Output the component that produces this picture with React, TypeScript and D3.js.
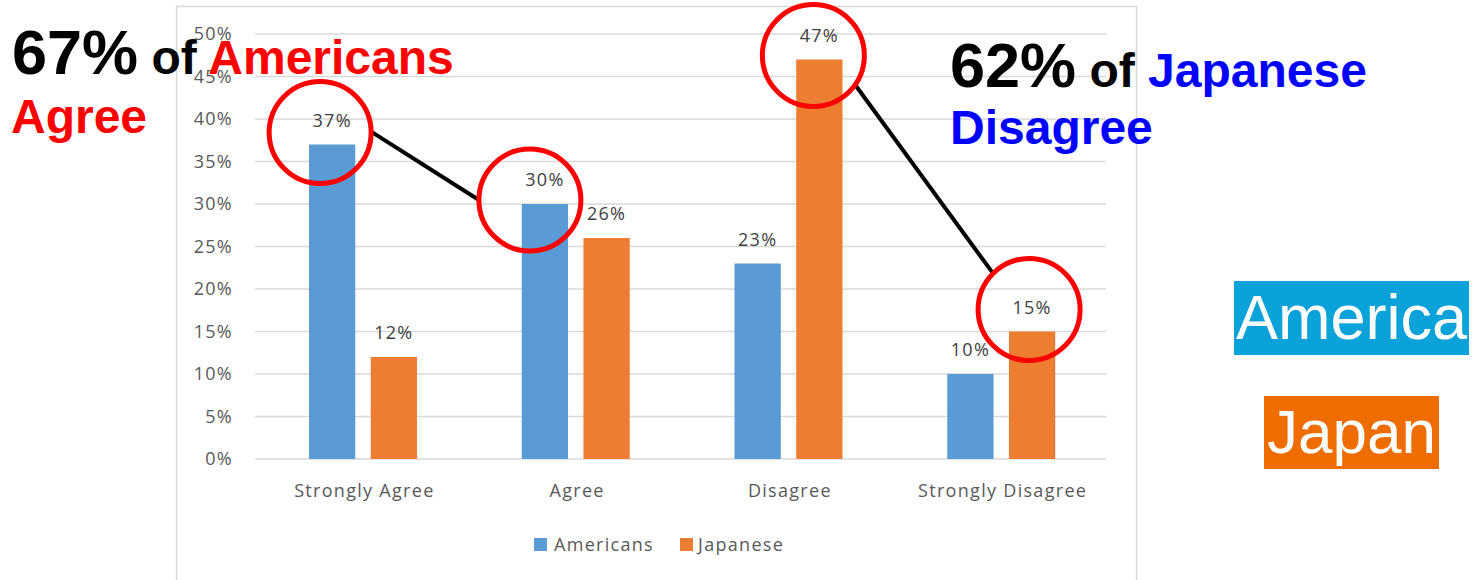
import React, { useEffect } from "react";
import * as d3 from "d3";

const categories = ["Strongly Agree", "Agree", "Disagree", "Strongly Disagree"];
const seriesNames = ["Americans", "Japanese"];
const americans = [37, 30, 23, 10];
const japanese = [12, 26, 47, 15];
const yTicks = [0, 5, 10, 15, 20, 25, 30, 35, 40, 45, 50];

// highlight circles: which bar they surround (category index, series index)
const circleCat = [0, 1, 2, 3];
const circleSeries = [0, 0, 1, 1];
const circleDx = [-12, -15, -6, -3];
const circleDy = [-12, -4, -4, -22];
// connectors: [fromCircle, angleDeg, toCircle, angleDeg]
const connectors: [number, number, number, number][] = [
  [0, -1, 1, 180],
  [2, 35, 3, 225],
];

const W = 1479;
const H = 580;
const plotLeft = 255;
const plotRight = 1106;
const plotTop = 34;
const plotBottom = 459;
const BLUE = "#5b9bd5";
const ORANGE = "#ed7d31";
const chartFont = "'Open Sans', sans-serif";
const bigFont = "'Liberation Sans', Arial, sans-serif";

export default function App() {
  useEffect(() => {
    document.body.style.margin = "0";
  }, []);

  const x0 = d3.scaleBand<string>().domain(categories).range([plotLeft, plotRight]);
  const x1 = d3.scaleBand<string>().domain(seriesNames).range([54, 162]).paddingInner(0.25);
  const y = d3.scaleLinear().domain([0, 50]).range([plotBottom, plotTop]);
  const color = d3.scaleOrdinal<string, string>().domain(seriesNames).range([BLUE, ORANGE]);
  const values = [americans, japanese];
  const bw = x1.bandwidth();

  const barCx = (ci: number, si: number) =>
    (x0(categories[ci]) as number) + (x1(seriesNames[si]) as number) + bw / 2;

  const R = 51;
  const circles = circleCat.map((ci, k) => ({
    cx: barCx(ci, circleSeries[k]) + circleDx[k],
    cy: y(values[circleSeries[k]][ci]) + circleDy[k],
  }));
  const pt = (k: number, deg: number) => {
    const a = (deg * Math.PI) / 180;
    return [circles[k].cx + R * Math.cos(a), circles[k].cy + R * Math.sin(a)];
  };

  const textStyle = { fontFamily: chartFont, fontSize: 18, letterSpacing: 1.3 };

  return (
    <svg width={W} height={H} style={{ position: "absolute", left: 0, top: 0, background: "#fff" }}>
      {/* chart frame */}
      <rect x={176.5} y={6.5} width={960} height={620} fill="#fff" stroke="#d9d9d9" strokeWidth={1.5} />

      {/* gridlines */}
      {yTicks.map((t) => (
        <line key={t} x1={plotLeft} x2={plotRight} y1={y(t)} y2={y(t)} stroke="#d9d9d9" strokeWidth={1.3} />
      ))}
      {/* y tick labels */}
      {yTicks.map((t) => (
        <text key={"yl" + t} x={233} y={y(t)} dy="0.36em" textAnchor="end" fill="#595959" style={textStyle}>
          {t + "%"}
        </text>
      ))}

      {/* bars */}
      {categories.map((c, ci) => (
        <g key={c} transform={`translate(${x0(c)},0)`}>
          {seriesNames.map((s, si) => (
            <rect
              key={s}
              x={x1(s)}
              y={y(values[si][ci])}
              width={bw}
              height={y(0) - y(values[si][ci])}
              fill={color(s)}
            />
          ))}
          {seriesNames.map((s, si) => (
            <text
              key={"l" + s}
              x={(x1(s) as number) + bw / 2}
              y={y(values[si][ci]) - 18}
              textAnchor="middle"
              fill="#404040"
              style={textStyle}
            >
              {values[si][ci] + "%"}
            </text>
          ))}
        </g>
      ))}

      {/* x category labels */}
      {categories.map((c) => (
        <text
          key={"x" + c}
          x={(x0(c) as number) + x0.bandwidth() / 2 + 3}
          y={497}
          textAnchor="middle"
          fill="#595959"
          style={textStyle}
        >
          {c}
        </text>
      ))}

      {/* legend */}
      <g>
        <rect x={534} y={538} width={13} height={13} fill={BLUE} />
        <text x={554} y={551} fill="#595959" style={textStyle}>
          {seriesNames[0]}
        </text>
        <rect x={680} y={538} width={13} height={13} fill={ORANGE} />
        <text x={698} y={551} fill="#595959" style={textStyle}>
          {seriesNames[1]}
        </text>
      </g>

      {/* highlight circles and connectors */}
      {connectors.map(([a, da, b, db], i) => {
        const p = pt(a, da);
        const q = pt(b, db);
        return <line key={"c" + i} x1={p[0]} y1={p[1]} x2={q[0]} y2={q[1]} stroke="#000" strokeWidth={4} />;
      })}
      {circles.map((c, i) => (
        <circle key={"o" + i} cx={c.cx} cy={c.cy} r={R} fill="none" stroke="#ff0000" strokeWidth={5} />
      ))}

      {/* callout texts */}
      <text x={12} y={74} fontFamily={bigFont} fontWeight="bold">
        <tspan fontSize={63} fill="#000">67%</tspan>
        <tspan fontSize={48} fill="#000">{" of "}</tspan>
        <tspan fontSize={48} fill="#ff0000">Americans</tspan>
      </text>
      <text x={11} y={133} fontFamily={bigFont} fontWeight="bold" fontSize={48} fill="#ff0000">
        Agree
      </text>
      <text x={950} y={87} fontFamily={bigFont} fontWeight="bold">
        <tspan fontSize={63} fill="#000">62%</tspan>
        <tspan fontSize={48} fill="#000">{" of "}</tspan>
        <tspan fontSize={48} fill="#0000ff">Japanese</tspan>
      </text>
      <text x={950} y={144} fontFamily={bigFont} fontWeight="bold" fontSize={48} fill="#0000ff">
        Disagree
      </text>

      {/* country boxes */}
      <rect x={1234} y={281} width={235} height={74} fill="#0aa2d8" />
      <text x={1351.5} y={339} textAnchor="middle" fontFamily={bigFont} fontSize={63} fill="#fff">
        America
      </text>
      <rect x={1264} y={396} width={175} height={73} fill="#ef6c00" />
      <text x={1351.5} y={453} textAnchor="middle" fontFamily={bigFont} fontSize={62} fill="#fff">
        Japan
      </text>
    </svg>
  );
}
